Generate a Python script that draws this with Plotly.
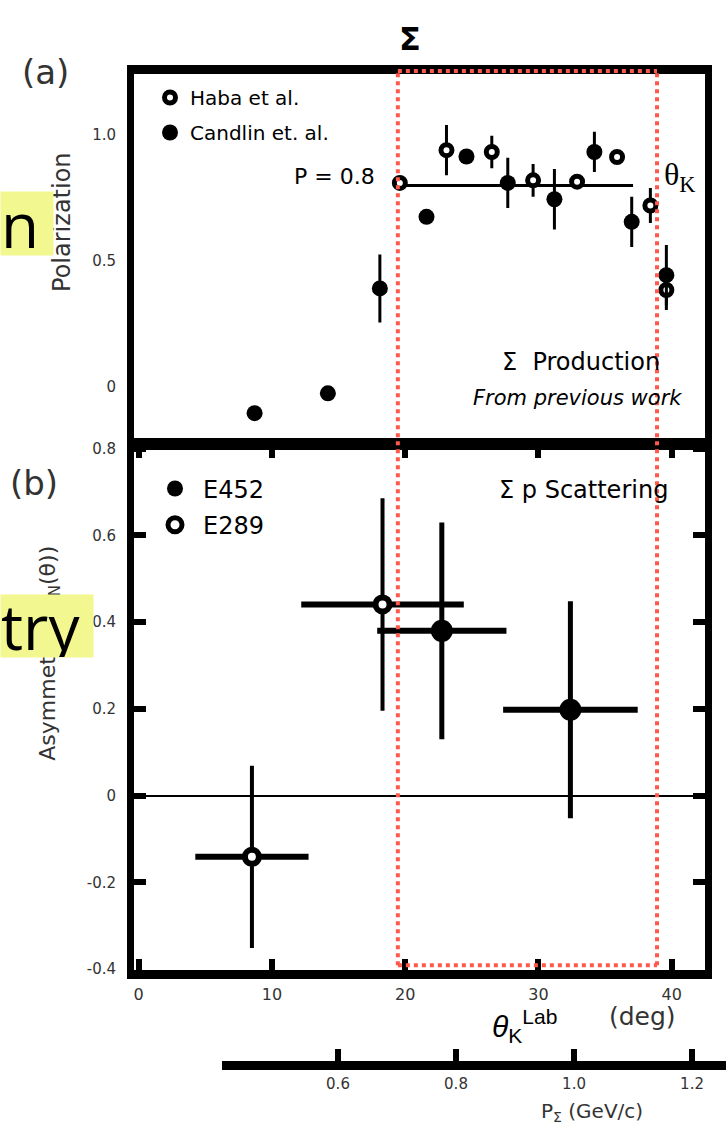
import plotly.graph_objects as go

W, H = 726, 1135


def fx(px):
    return px / W


def fy(py):
    return 1 - py / H


# ---------------- (a) Sigma production polarization ----------------
haba_theta = [19.6, 23.1, 26.5, 29.6, 32.9, 35.9, 38.4, 39.6]
haba_pol = [0.81, 0.94, 0.933, 0.82, 0.815, 0.913, 0.72, 0.384]
haba_err = [0.0, 0.10, 0.065, 0.065, 0.0, 0.0, 0.07, 0.08]

candlin_theta = [8.7, 14.2, 18.1, 21.6, 24.6, 27.7, 31.2, 34.2, 37.0, 39.6]
candlin_pol = [-0.106, -0.027, 0.39, 0.675, 0.915, 0.81, 0.745, 0.933, 0.655, 0.443]
candlin_err = [0.0, 0.0, 0.135, 0.0, 0.0, 0.10, 0.12, 0.08, 0.10, 0.12]

p_fit = 0.8
p_fit_span = [19.3, 37.1]

# ---------------- (b) Sigma-p scattering asymmetry ----------------
e452_theta = [22.75, 32.4]
e452_theta_err = [4.85, 5.05]
e452_asym = [0.38, 0.198]
e452_asym_err = [0.25, 0.25]

e289_theta = [8.5, 18.3]
e289_theta_err = [4.25, 6.1]
e289_asym = [-0.141, 0.441]
e289_asym_err = [0.21, 0.245]

# axis ticks
theta_ticks = [0, 10, 20, 30, 40]
pol_ticks = [0, 0.5, 1.0]
pol_ticktext = ["0", "0.5", "1.0"]
asym_ticks = [-0.4, -0.2, 0, 0.2, 0.4, 0.6, 0.8]
asym_ticktext = ["-0.4", "-0.2", "0", "0.2", "0.4", "0.6", "0.8"]
psigma_ticks = [0.6, 0.8, 1.0, 1.2]
psigma_ticktext = ["0.6", "0.8", "1.0", "1.2"]

# angular window highlighted across both panels
window_deg = (19.45, 38.9)

FONT = "DejaVu Sans"
RED = "rgb(255,88,76)"
GREY = "#333"

fig = go.Figure()

open_marker_a = dict(symbol="circle", size=11, color="white", line=dict(color="black", width=5))
fill_marker_a = dict(symbol="circle", size=16, color="black", line=dict(width=0))

fig.add_trace(go.Scatter(
    x=p_fit_span, y=[p_fit, p_fit], mode="lines",
    line=dict(color="black", width=3), showlegend=False, hoverinfo="skip",
    xaxis="x", yaxis="y"))

fig.add_trace(go.Scatter(
    x=haba_theta, y=haba_pol, mode="markers", name="Haba et al.",
    marker=open_marker_a,
    error_y=dict(type="data", array=haba_err, color="black", thickness=3, width=0),
    xaxis="x", yaxis="y", legend="legend", legendgroup="haba"))

fig.add_trace(go.Scatter(
    x=candlin_theta, y=candlin_pol, mode="markers", name="Candlin et. al.",
    marker=fill_marker_a,
    error_y=dict(type="data", array=candlin_err, color="black", thickness=3, width=0),
    xaxis="x", yaxis="y", legend="legend", legendgroup="candlin"))

fig.add_trace(go.Scatter(
    x=e452_theta, y=e452_asym, mode="markers", name="E452",
    marker=dict(symbol="circle", size=22, color="black"),
    error_x=dict(type="data", array=e452_theta_err, color="black", thickness=6, width=0),
    error_y=dict(type="data", array=e452_asym_err, color="black", thickness=5, width=0),
    xaxis="x2", yaxis="y2", legend="legend2", legendgroup="e452"))

fig.add_trace(go.Scatter(
    x=e289_theta, y=e289_asym, mode="markers", name="E289",
    marker=dict(symbol="circle", size=14, color="white", line=dict(color="black", width=6)),
    error_x=dict(type="data", array=e289_theta_err, color="black", thickness=6, width=0),
    error_y=dict(type="data", array=e289_asym_err, color="black", thickness=4, width=0),
    xaxis="x2", yaxis="y2", legend="legend2", legendgroup="e289"))

# carrier trace for the momentum scale
fig.add_trace(go.Scatter(x=[], y=[], xaxis="x3", yaxis="y3", showlegend=False))

x_dom = [fx(134), fx(705)]
x_rng = [-0.35, 42.5]
tickfont = dict(family=FONT, size=15, color=GREY)

fig.update_layout(
    width=W, height=H,
    margin=dict(l=0, r=0, t=0, b=0),
    paper_bgcolor="white", plot_bgcolor="white",
    font=dict(family=FONT, color="black"),
    xaxis=dict(domain=x_dom, range=x_rng, anchor="y", showgrid=False, zeroline=False,
               showline=True, linewidth=9, linecolor="black", mirror=True,
               ticks="", showticklabels=False),
    yaxis=dict(domain=[fy(440), fy(68)], range=[-0.216, 1.243], anchor="x",
               showgrid=False, zeroline=False, showline=True, linewidth=7,
               linecolor="black", mirror=True, ticks="", ticklabelstandoff=8,
               tickvals=pol_ticks, ticktext=pol_ticktext, tickfont=tickfont),
    xaxis2=dict(domain=x_dom, range=x_rng, anchor="y2", showgrid=False, zeroline=False,
                showline=True, linewidth=9, linecolor="black", mirror="ticks",
                ticks="inside", ticklen=11, tickwidth=6, tickcolor="black",
                ticklabelstandoff=2,
                tickvals=theta_ticks, ticktext=[str(v) for v in theta_ticks],
                tickfont=dict(family=FONT, size=16, color=GREY)),
    yaxis2=dict(domain=[fy(976.4), fy(445.8)], range=[-0.401, 0.805], anchor="x2",
                showgrid=False, zeroline=True, zerolinecolor="black", zerolinewidth=2,
                showline=True, linewidth=7, linecolor="black", mirror="ticks",
                ticks="inside", ticklen=12, tickwidth=6, tickcolor="black",
                ticklabelstandoff=8,
                tickvals=asym_ticks, ticktext=asym_ticktext, tickfont=tickfont),
    xaxis3=dict(domain=[fx(222), 1.0], range=[0.4034, 1.2576], anchor="free",
                position=fy(1073), showgrid=False, zeroline=False,
                showline=True, linewidth=9, linecolor="black",
                ticks="inside", ticklen=12, tickwidth=6, tickcolor="black",
                ticklabelstandoff=1,
                tickvals=psigma_ticks, ticktext=psigma_ticktext, tickfont=tickfont),
    yaxis3=dict(domain=[0, 0.01], anchor="x3", visible=False),
    legend=dict(x=fx(150), y=fy(72), xanchor="left", yanchor="top",
                bgcolor="rgba(0,0,0,0)", font=dict(family=FONT, size=20),
                traceorder="grouped", tracegroupgap=6, itemwidth=30),
    legend2=dict(x=fx(147), y=fy(466), xanchor="left", yanchor="top",
                 bgcolor="rgba(0,0,0,0)", font=dict(family=FONT, size=24),
                 traceorder="grouped", tracegroupgap=2, itemwidth=46),
)

# highlighted angular window (dotted red box spanning both panels)
dot = dict(color=RED, width=4, dash="4px,4px")
for xv in window_deg:
    fig.add_shape(type="line", xref="x", yref="paper", x0=xv, x1=xv,
                  y0=fy(972), y1=fy(65), line=dot, layer="above")
for yv in (fy(65), fy(972)):
    fig.add_shape(type="line", xref="x", yref="paper", x0=window_deg[0], x1=window_deg[1],
                  y0=yv, y1=yv, line=dot, layer="above")


def note(text, x, y, size, xanchor="center", yanchor="middle", **kw):
    fig.add_annotation(text=text, xref="paper", yref="paper", x=fx(x), y=fy(y),
                       xanchor=xanchor, yanchor=yanchor, showarrow=False,
                       font=dict(family=kw.pop("family", FONT), size=size,
                                 color=kw.pop("color", "black")), **kw)


note("<b>Σ</b>", 410, 32, 32)
note("(a)", 45, 66, 34, color=GREY)
note("(b)", 34, 483, 34, color=GREY)
note("P = 0.8", 377, 172, 22, xanchor="right")
note("θ<sub>K</sub>", 662, 172, 32, xanchor="left", family="Liberation Serif")
note("Σ  Production", 662, 360, 24, xanchor="right")
note("<i>From previous work</i>", 684, 397, 21, xanchor="right")
note("Σ p Scattering", 670, 490, 24, xanchor="right")
note("Polarization", 62, 218, 24, textangle=-90, color=GREY)
note("Asymmetry  (A<sub>N</sub>(θ))", 50, 656, 22, textangle=-90, color=GREY)
note("<i>θ</i><sub>K</sub><sup>Lab</sup>", 490, 1034, 30, xanchor="left",
     family="Liberation Sans")
note("(deg)", 642, 1024, 25, color=GREY)
note("P<sub>Σ</sub> (GeV/c)", 592, 1121, 20, color=GREY)

# highlighted word fragments at the left edge
fig.add_annotation(text="n", xref="paper", yref="paper", x=0, y=fy(187),
                   xanchor="left", yanchor="top", width=52, height=63,
                   align="left", valign="middle", bgcolor="#F3F78F", borderpad=0,
                   showarrow=False, font=dict(family="Open Sans", size=62, color="black"))
fig.add_annotation(text="try", xref="paper", yref="paper", x=0, y=fy(595),
                   xanchor="left", yanchor="top", width=92, height=62,
                   align="left", valign="middle", bgcolor="#F3F78F", borderpad=0,
                   showarrow=False, font=dict(family="Open Sans", size=62, color="black"))

fig.write_html("out.html")
